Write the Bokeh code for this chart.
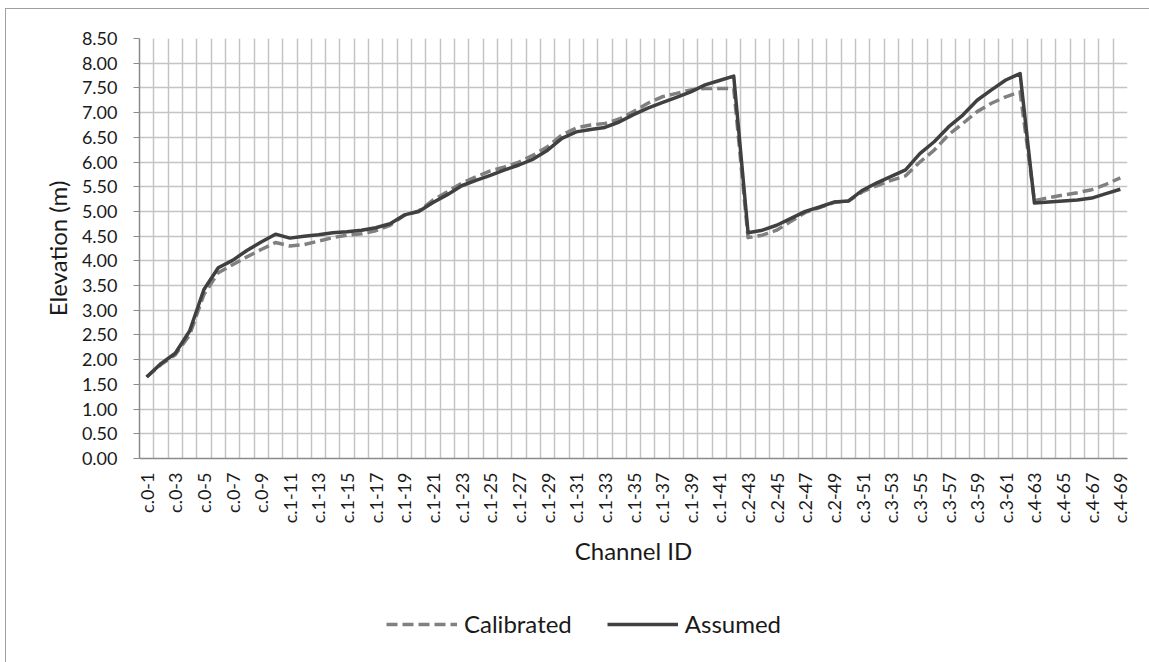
import math

from bokeh.embed import file_html
from bokeh.layouts import column
from bokeh.models import (ColumnDataSource, FixedTicker, Legend, LegendItem,
                          NumeralTickFormatter, Range1d)
from bokeh.plotting import figure
from bokeh.resources import INLINE

# Channel IDs: (channel number, first section, last section)
channel_groups = [(0, 1, 10), (1, 11, 42), (2, 43, 50), (3, 51, 62), (4, 63, 69)]
channel_ids = [f"c.{ch}-{k}" for ch, a, b in channel_groups for k in range(a, b + 1)]

# Bed elevation (m) per channel section
calibrated = [
    1.65, 1.90, 2.10, 2.50, 3.32, 3.76, 3.92, 4.08, 4.23, 4.37,
    4.30, 4.33, 4.40, 4.47, 4.52, 4.55, 4.61, 4.72, 4.92, 5.01,
    5.23, 5.40, 5.57, 5.70, 5.82, 5.90, 6.00, 6.14, 6.31, 6.55,
    6.69, 6.75, 6.78, 6.87, 7.02, 7.19, 7.32, 7.39, 7.46, 7.49,
    7.49, 7.49, 4.47, 4.52, 4.62, 4.80, 4.98, 5.08, 5.18, 5.21,
    5.40, 5.52, 5.63, 5.72, 6.00, 6.24, 6.55, 6.78, 7.02, 7.19,
    7.32, 7.42, 5.22, 5.28, 5.33, 5.38, 5.44, 5.55, 5.68,
]
assumed = [
    1.65, 1.92, 2.13, 2.58, 3.42, 3.86, 4.01, 4.21, 4.38, 4.54,
    4.46, 4.50, 4.53, 4.57, 4.59, 4.62, 4.67, 4.75, 4.93, 5.00,
    5.18, 5.34, 5.52, 5.63, 5.73, 5.84, 5.94, 6.06, 6.24, 6.48,
    6.61, 6.66, 6.70, 6.81, 6.96, 7.09, 7.20, 7.31, 7.42, 7.56,
    7.65, 7.74, 4.57, 4.62, 4.72, 4.86, 5.00, 5.09, 5.19, 5.21,
    5.43, 5.58, 5.71, 5.84, 6.17, 6.41, 6.71, 6.95, 7.25, 7.46,
    7.66, 7.79, 5.17, 5.19, 5.21, 5.23, 5.27, 5.36, 5.45,
]

y_ticks = [k * 0.5 for k in range(18)]

n = len(channel_ids)
pos = list(range(1, n + 1))
src = ColumnDataSource(dict(x=pos, channel=channel_ids, cal=calibrated, ass=assumed))

FONT = "Lato"
AXIS_GREY = "#8a8a8a"
CAL_STYLE = dict(line_color="#808080", line_width=3.5, line_dash="11 5",
                 line_join="round")
ASS_STYLE = dict(line_color="#404040", line_width=3.5, line_join="round")

W = 1143
H_MAIN = 590
H_LEGEND = 63

p = figure(
    width=W, height=H_MAIN,
    output_backend="svg", toolbar_location=None,
    x_range=Range1d(0.5, n + 0.5), y_range=Range1d(0, 8.5),
    min_border_left=133, min_border_right=22,
    min_border_top=29, min_border_bottom=H_MAIN - 29 - 420,
    outline_line_color=None,
    background_fill_color="white", border_fill_color="white",
)

# grid: vertical lines between categories, horizontal lines at every 0.5 m
p.xgrid.ticker = FixedTicker(ticks=[k + 0.5 for k in range(n + 1)])
p.ygrid.ticker = FixedTicker(ticks=y_ticks)
for g in (p.xgrid, p.ygrid):
    g.grid_line_color = "#c4c4c4"
    g.grid_line_width = 1.5

# x axis: every other channel labelled
xa = p.xaxis[0]
xa.ticker = FixedTicker(ticks=pos[::2])
xa.major_label_overrides = {x: c for x, c in zip(pos, channel_ids)}
xa.major_label_orientation = math.pi / 2
xa.major_tick_out = 0
xa.major_tick_in = 0
xa.minor_tick_out = 0
xa.minor_tick_in = 0
xa.major_label_standoff = 14
xa.major_label_text_font = FONT
xa.major_label_text_font_size = "18px"
xa.major_label_text_color = "#1a1a1a"
xa.axis_line_color = AXIS_GREY
xa.axis_line_width = 1.5
xa.axis_label = "Channel ID"
xa.axis_label_text_font = FONT
xa.axis_label_text_font_size = "24px"
xa.axis_label_text_font_style = "normal"
xa.axis_label_text_color = "#1a1a1a"
xa.axis_label_standoff = 10

ya = p.yaxis[0]
ya.ticker = FixedTicker(ticks=y_ticks)
ya.formatter = NumeralTickFormatter(format="0.00")
ya.major_tick_out = 6
ya.major_tick_in = 0
ya.minor_tick_out = 0
ya.minor_tick_in = 0
ya.major_tick_line_color = AXIS_GREY
ya.major_label_standoff = 16
ya.major_label_text_font = FONT
ya.major_label_text_font_size = "18px"
ya.major_label_text_color = "#1a1a1a"
ya.axis_line_color = AXIS_GREY
ya.axis_line_width = 1.5
ya.axis_label = "Elevation (m)"
ya.axis_label_text_font = FONT
ya.axis_label_text_font_size = "24px"
ya.axis_label_text_font_style = "normal"
ya.axis_label_text_color = "#1a1a1a"
ya.axis_label_standoff = 7

p.line("x", "cal", source=src, **CAL_STYLE)
p.line("x", "ass", source=src, **ASS_STYLE)

# legend strip under the chart; its key renderers hold a single off-range
# point so they only supply the legend swatches
lg = figure(
    width=W, height=H_LEGEND,
    output_backend="svg", toolbar_location=None,
    x_range=Range1d(0, 1), y_range=Range1d(0, 1),
    min_border=0, outline_line_color=None,
    background_fill_color="white", border_fill_color="white",
)
lg.axis.visible = False
lg.grid.visible = False
key_src = ColumnDataSource(dict(x=[-1.0], y=[-1.0]))
k_cal = lg.line("x", "y", source=key_src, **CAL_STYLE)
k_ass = lg.line("x", "y", source=key_src, **ASS_STYLE)

legend = Legend(
    items=[LegendItem(label="Calibrated", renderers=[k_cal]),
           LegendItem(label="Assumed", renderers=[k_ass])],
    orientation="horizontal", location=(247, 24),
    glyph_width=71, glyph_height=20, label_standoff=7, spacing=35,
    label_text_font=FONT, label_text_font_size="24px", label_text_color="#1a1a1a",
    border_line_color=None, background_fill_alpha=0,
    padding=4, margin=0,
)
lg.add_layout(legend, "center")

page = column(p, lg, spacing=0)
page.styles = {
    "margin-left": "5px",
    "margin-top": "8px",
    "border-left": "1px solid #a0a0a0",
    "border-top": "1px solid #a0a0a0",
}

open("out.html", "w").write(file_html(page, INLINE))
